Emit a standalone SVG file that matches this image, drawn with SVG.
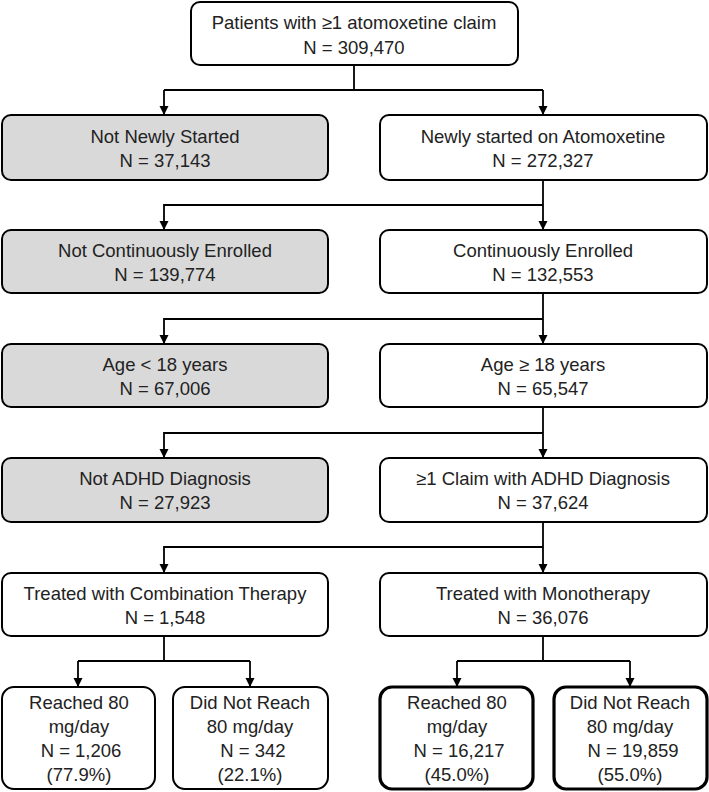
<svg xmlns="http://www.w3.org/2000/svg" width="709" height="792" viewBox="0 0 709 792">
<defs>
<style>
.box{fill:#fff;stroke:#000;stroke-width:2}
.grey{fill:#d9d9d9}
.thick{stroke-width:3.2}
.t{font-family:"Liberation Sans",Arial,sans-serif;font-size:18.5px;fill:#222;text-anchor:middle}
.c{fill:none;stroke:#000;stroke-width:1.8}
</style>
</defs>
<g id="connectors">
<path class="c" d="M354,65 V90 M164,90 H543 M164,90 V114 M543,90 V114"/>
<path class="c" d="M543,180 V229 M543,205 H164 V229"/>
<path class="c" d="M543,293 V343 M543,319 H164 V343"/>
<path class="c" d="M543,407 V457 M543,433 H164 V457"/>
<path class="c" d="M543,522 V572 M543,547 H164 V572"/>
<path class="c" d="M164,636 V661 M78,661 H250 M78,661 V686 M250,661 V686"/>
<path class="c" d="M543,636 V661 M457,661 H630 M457,661 V686 M630,661 V686"/>
<g fill="#000">
<polygon points="159.5,106 168.5,106 164,115"/>
<polygon points="538.5,106 547.5,106 543,115"/>
<polygon points="159.5,221 168.5,221 164,230"/>
<polygon points="538.5,221 547.5,221 543,230"/>
<polygon points="159.5,335 168.5,335 164,344"/>
<polygon points="538.5,335 547.5,335 543,344"/>
<polygon points="159.5,449 168.5,449 164,458"/>
<polygon points="538.5,449 547.5,449 543,458"/>
<polygon points="159.5,564 168.5,564 164,573"/>
<polygon points="538.5,564 547.5,564 543,573"/>
<polygon points="73.5,678 82.5,678 78,687"/>
<polygon points="245.5,678 254.5,678 250,687"/>
<polygon points="452.5,678 461.5,678 457,687"/>
<polygon points="625.5,678 634.5,678 630,687"/>
</g>
</g>
<g id="n-all"><rect class="box" x="191" y="2" width="327" height="63" rx="9"/><text class="t" x="354" y="29">Patients with ≥1 atomoxetine claim</text><text class="t" x="354" y="54">N = 309,470</text></g>
<g id="n-notnew"><rect class="box grey" x="2" y="115" width="326" height="65" rx="9"/><text class="t" x="165" y="143">Not Newly Started</text><text class="t" x="165" y="167">N = 37,143</text></g>
<g id="n-new"><rect class="box" x="380" y="115" width="327" height="65" rx="9"/><text class="t" x="543" y="143">Newly started on Atomoxetine</text><text class="t" x="543" y="167">N = 272,327</text></g>
<g id="n-notcont"><rect class="box grey" x="2" y="230" width="326" height="63" rx="9"/><text class="t" x="165" y="257">Not Continuously Enrolled</text><text class="t" x="165" y="281">N = 139,774</text></g>
<g id="n-cont"><rect class="box" x="380" y="230" width="327" height="63" rx="9"/><text class="t" x="543" y="257">Continuously Enrolled</text><text class="t" x="543" y="281">N = 132,553</text></g>
<g id="n-young"><rect class="box grey" x="2" y="344" width="326" height="63" rx="9"/><text class="t" x="165" y="371">Age &lt; 18 years</text><text class="t" x="165" y="395">N = 67,006</text></g>
<g id="n-adult"><rect class="box" x="380" y="344" width="327" height="63" rx="9"/><text class="t" x="543" y="371">Age ≥ 18 years</text><text class="t" x="543" y="395">N = 65,547</text></g>
<g id="n-noadhd"><rect class="box grey" x="2" y="458" width="326" height="64" rx="9"/><text class="t" x="165" y="485">Not ADHD Diagnosis</text><text class="t" x="165" y="509">N = 27,923</text></g>
<g id="n-adhd"><rect class="box" x="380" y="458" width="327" height="64" rx="9"/><text class="t" x="543" y="485">≥1 Claim with ADHD Diagnosis</text><text class="t" x="543" y="509">N = 37,624</text></g>
<g id="n-combo"><rect class="box" x="2" y="573" width="326" height="63" rx="9"/><text class="t" x="165" y="600">Treated with Combination Therapy</text><text class="t" x="165" y="624">N = 1,548</text></g>
<g id="n-mono"><rect class="box" x="380" y="573" width="327" height="63" rx="9"/><text class="t" x="543" y="600">Treated with Monotherapy</text><text class="t" x="543" y="624">N = 36,076</text></g>
<g id="n-c-reach"><rect class="box" x="2" y="687" width="153" height="102" rx="12"/><text class="t" x="79" y="709">Reached 80</text><text class="t" x="79" y="733">mg/day</text><text class="t" x="81" y="757">N = 1,206</text><text class="t" x="79" y="781">(77.9%)</text></g>
<g id="n-c-not"><rect class="box" x="173" y="687" width="155" height="102" rx="12"/><text class="t" x="250" y="709">Did Not Reach</text><text class="t" x="250" y="733">80 mg/day</text><text class="t" x="253" y="757">N = 342</text><text class="t" x="250" y="781">(22.1%)</text></g>
<g id="n-m-reach"><rect class="box thick" x="380" y="687" width="153" height="102" rx="12"/><text class="t" x="457" y="709">Reached 80</text><text class="t" x="457" y="733">mg/day</text><text class="t" x="459" y="757">N = 16,217</text><text class="t" x="457" y="781">(45.0%)</text></g>
<g id="n-m-not"><rect class="box thick" x="554" y="687" width="153" height="102" rx="12"/><text class="t" x="630" y="709">Did Not Reach</text><text class="t" x="630" y="733">80 mg/day</text><text class="t" x="633" y="757">N = 19,859</text><text class="t" x="630" y="781">(55.0%)</text></g>
</svg>
